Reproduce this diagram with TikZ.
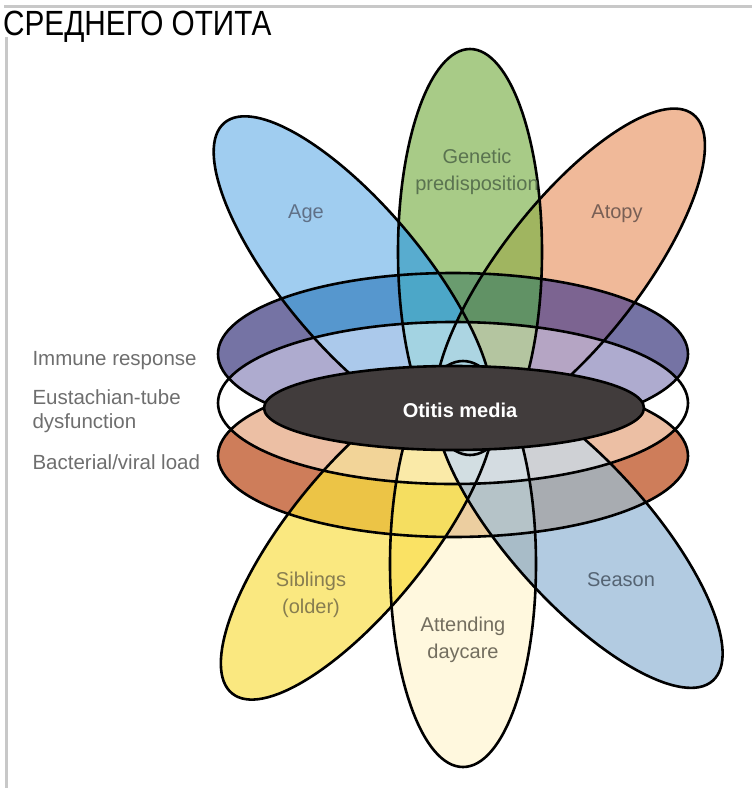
\documentclass[tikz,border=0pt]{standalone}
\usepackage{fontspec}
\setmainfont{Liberation Sans}
\usepackage{tikz}
\definecolor{framegray}{RGB}{200,200,200}
\definecolor{agec}{RGB}{160,205,240}
\definecolor{genc}{RGB}{168,203,135}
\definecolor{atoc}{RGB}{240,185,153}
\definecolor{sibc}{RGB}{250,232,128}
\definecolor{dayc}{RGB}{255,248,222}
\definecolor{seac}{RGB}{178,203,225}
\definecolor{agegen}{RGB}{88,172,207}
\definecolor{genato}{RGB}{160,181,96}
\definecolor{sibday}{RGB}{250,226,100}
\definecolor{daysea}{RGB}{168,188,200}
\definecolor{immc}{RGB}{117,115,164}
\definecolor{immage}{RGB}{86,151,206}
\definecolor{immgen}{RGB}{106,156,111}
\definecolor{immato}{RGB}{124,100,145}
\definecolor{immagegen}{RGB}{76,167,200}
\definecolor{immgenato}{RGB}{97,146,101}
\definecolor{lavc}{RGB}{174,171,207}
\definecolor{lavage}{RGB}{171,201,235}
\definecolor{lavgen}{RGB}{176,200,170}
\definecolor{lavato}{RGB}{181,165,196}
\definecolor{lavagegen}{RGB}{163,211,226}
\definecolor{lavgenato}{RGB}{180,197,160}
\definecolor{lavmid}{RGB}{172,213,226}
\definecolor{peac}{RGB}{236,191,164}
\definecolor{peasib}{RGB}{242,212,152}
\definecolor{peaday}{RGB}{250,238,195}
\definecolor{peasea}{RGB}{207,209,213}
\definecolor{peasibday}{RGB}{250,234,168}
\definecolor{peadaysea}{RGB}{212,220,225}
\definecolor{peamid}{RGB}{210,222,226}
\definecolor{bacc}{RGB}{206,125,90}
\definecolor{bacsib}{RGB}{236,196,70}
\definecolor{bacday}{RGB}{236,206,160}
\definecolor{bacsea}{RGB}{168,172,177}
\definecolor{bacsibday}{RGB}{245,222,96}
\definecolor{bacdaysea}{RGB}{181,195,200}
\definecolor{otic}{RGB}{65,60,60}
\definecolor{sidegray}{RGB}{110,110,110}
\definecolor{agetxt}{RGB}{95,112,135}
\definecolor{gentxt}{RGB}{90,115,80}
\definecolor{atotxt}{RGB}{120,95,85}
\definecolor{sibtxt}{RGB}{135,125,80}
\definecolor{daytxt}{RGB}{115,110,95}
\definecolor{seatxt}{RGB}{85,100,115}
% petals and rings
\newcommand{\agepetal}[1]{\path[#1,rotate around={130:(353,276)}] (353,276) ellipse (200 and 70);}
\newcommand{\genpetal}[1]{\path[#1] (470,252) ellipse (72 and 203);}
\newcommand{\atopetal}[1]{\path[#1,rotate around={52:(570,272)}] (570,272) ellipse (200 and 70);}
\newcommand{\sibpetal}[1]{\path[#1,rotate around={231:(358,538)}] (358,538) ellipse (200 and 70);}
\newcommand{\daypetal}[1]{\path[#1] (463,564) ellipse (73 and 203);}
\newcommand{\seapetal}[1]{\path[#1,rotate around={-48:(579,532)}] (579,532) ellipse (200 and 70);}
\newcommand{\immring}[1]{\path[#1] (453,354) ellipse (235 and 81);}
\newcommand{\eusring}[1]{\path[#1] (453,403) ellipse (235 and 81);}
\newcommand{\bacring}[1]{\path[#1] (453,456) ellipse (235 and 81);}

\begin{document}
\begin{tikzpicture}[x=1pt,y=-1pt,
  lab/.style={font=\fontsize{20}{27}\selectfont, align=center},
  side/.style={font=\fontsize{20.5}{24}\selectfont, text=sidegray, anchor=west, align=left},
  edge/.style={draw, line width=2.6}]
\useasboundingbox (0,0) rectangle (752,788);
\draw [framegray, line width=3] (4,6)--(752,6);
\draw [framegray, line width=3] (6,37)--(6,788);
\node [anchor=base west, inner sep=0, xscale=0.85, font=\fontsize{35}{40}\selectfont] (title) at (3,35) {СРЕДНЕГО ОТИТА};

% petals
\agepetal{fill=agec} \genpetal{fill=genc} \atopetal{fill=atoc}
\sibpetal{fill=sibc} \daypetal{fill=dayc} \seapetal{fill=seac}
\begin{scope} \agepetal{clip} \genpetal{fill=agegen} \end{scope}
\begin{scope} \atopetal{clip} \genpetal{fill=genato} \end{scope}
\begin{scope} \sibpetal{clip} \daypetal{fill=sibday} \end{scope}
\begin{scope} \seapetal{clip} \daypetal{fill=daysea} \end{scope}

% rings
\eusring{fill=white}
\begin{scope}
\immring{clip} \immring{fill=immc}
\agepetal{fill=immage} \genpetal{fill=immgen} \atopetal{fill=immato}
\begin{scope} \agepetal{clip} \genpetal{fill=immagegen} \end{scope}
\begin{scope} \atopetal{clip} \genpetal{fill=immgenato} \end{scope}
\end{scope}
\begin{scope}
\bacring{clip} \bacring{fill=bacc}
\sibpetal{fill=bacsib} \daypetal{fill=bacday} \seapetal{fill=bacsea}
\begin{scope} \sibpetal{clip} \daypetal{fill=bacsibday} \end{scope}
\begin{scope} \seapetal{clip} \daypetal{fill=bacdaysea} \end{scope}
\end{scope}
\begin{scope}
\immring{clip} \eusring{clip} \eusring{fill=lavc}
\agepetal{fill=lavage} \genpetal{fill=lavgen} \atopetal{fill=lavato}
\begin{scope} \agepetal{clip} \genpetal{fill=lavagegen} \end{scope}
\begin{scope} \atopetal{clip} \genpetal{fill=lavgenato} \end{scope}
\begin{scope} \agepetal{clip} \atopetal{fill=lavmid} \end{scope}
\end{scope}
\begin{scope}
\eusring{clip} \bacring{clip} \bacring{fill=peac}
\sibpetal{fill=peasib} \daypetal{fill=peaday} \seapetal{fill=peasea}
\begin{scope} \sibpetal{clip} \daypetal{fill=peasibday} \end{scope}
\begin{scope} \seapetal{clip} \daypetal{fill=peadaysea} \end{scope}
\begin{scope} \sibpetal{clip} \seapetal{fill=peamid} \end{scope}
\end{scope}

% outlines
\agepetal{edge} \genpetal{edge} \atopetal{edge}
\sibpetal{edge} \daypetal{edge} \seapetal{edge}
\immring{edge} \eusring{edge} \bacring{edge}
\draw [fill=otic, line width=2.6] (454,408) ellipse (190 and 42);
\node [text=white, font=\fontsize{20}{24}\selectfont\bfseries] (otitis) at (460,410) {Otitis media};

% labels
\node [lab, text=agetxt] (lblage) at (306,214) {Age};
\node [lab, text=gentxt] (lblgen) at (477,172) {Genetic\\predisposition};
\node [lab, text=atotxt] (lblato) at (617,214) {Atopy};
\node [lab, text=sibtxt] (lblsib) at (311,595) {Siblings\\(older)};
\node [lab, text=daytxt] (lblday) at (463,640) {Attending\\daycare};
\node [lab, text=seatxt] (lblsea) at (621,580) {Season};
\node [side] (lblimm) at (29,361) {Immune response};
\node [side] (lbleus) at (29,411) {Eustachian-tube\\dysfunction};
\node [side] (lblbac) at (29,462) {Bacterial/viral load};

\end{tikzpicture}
\end{document}
